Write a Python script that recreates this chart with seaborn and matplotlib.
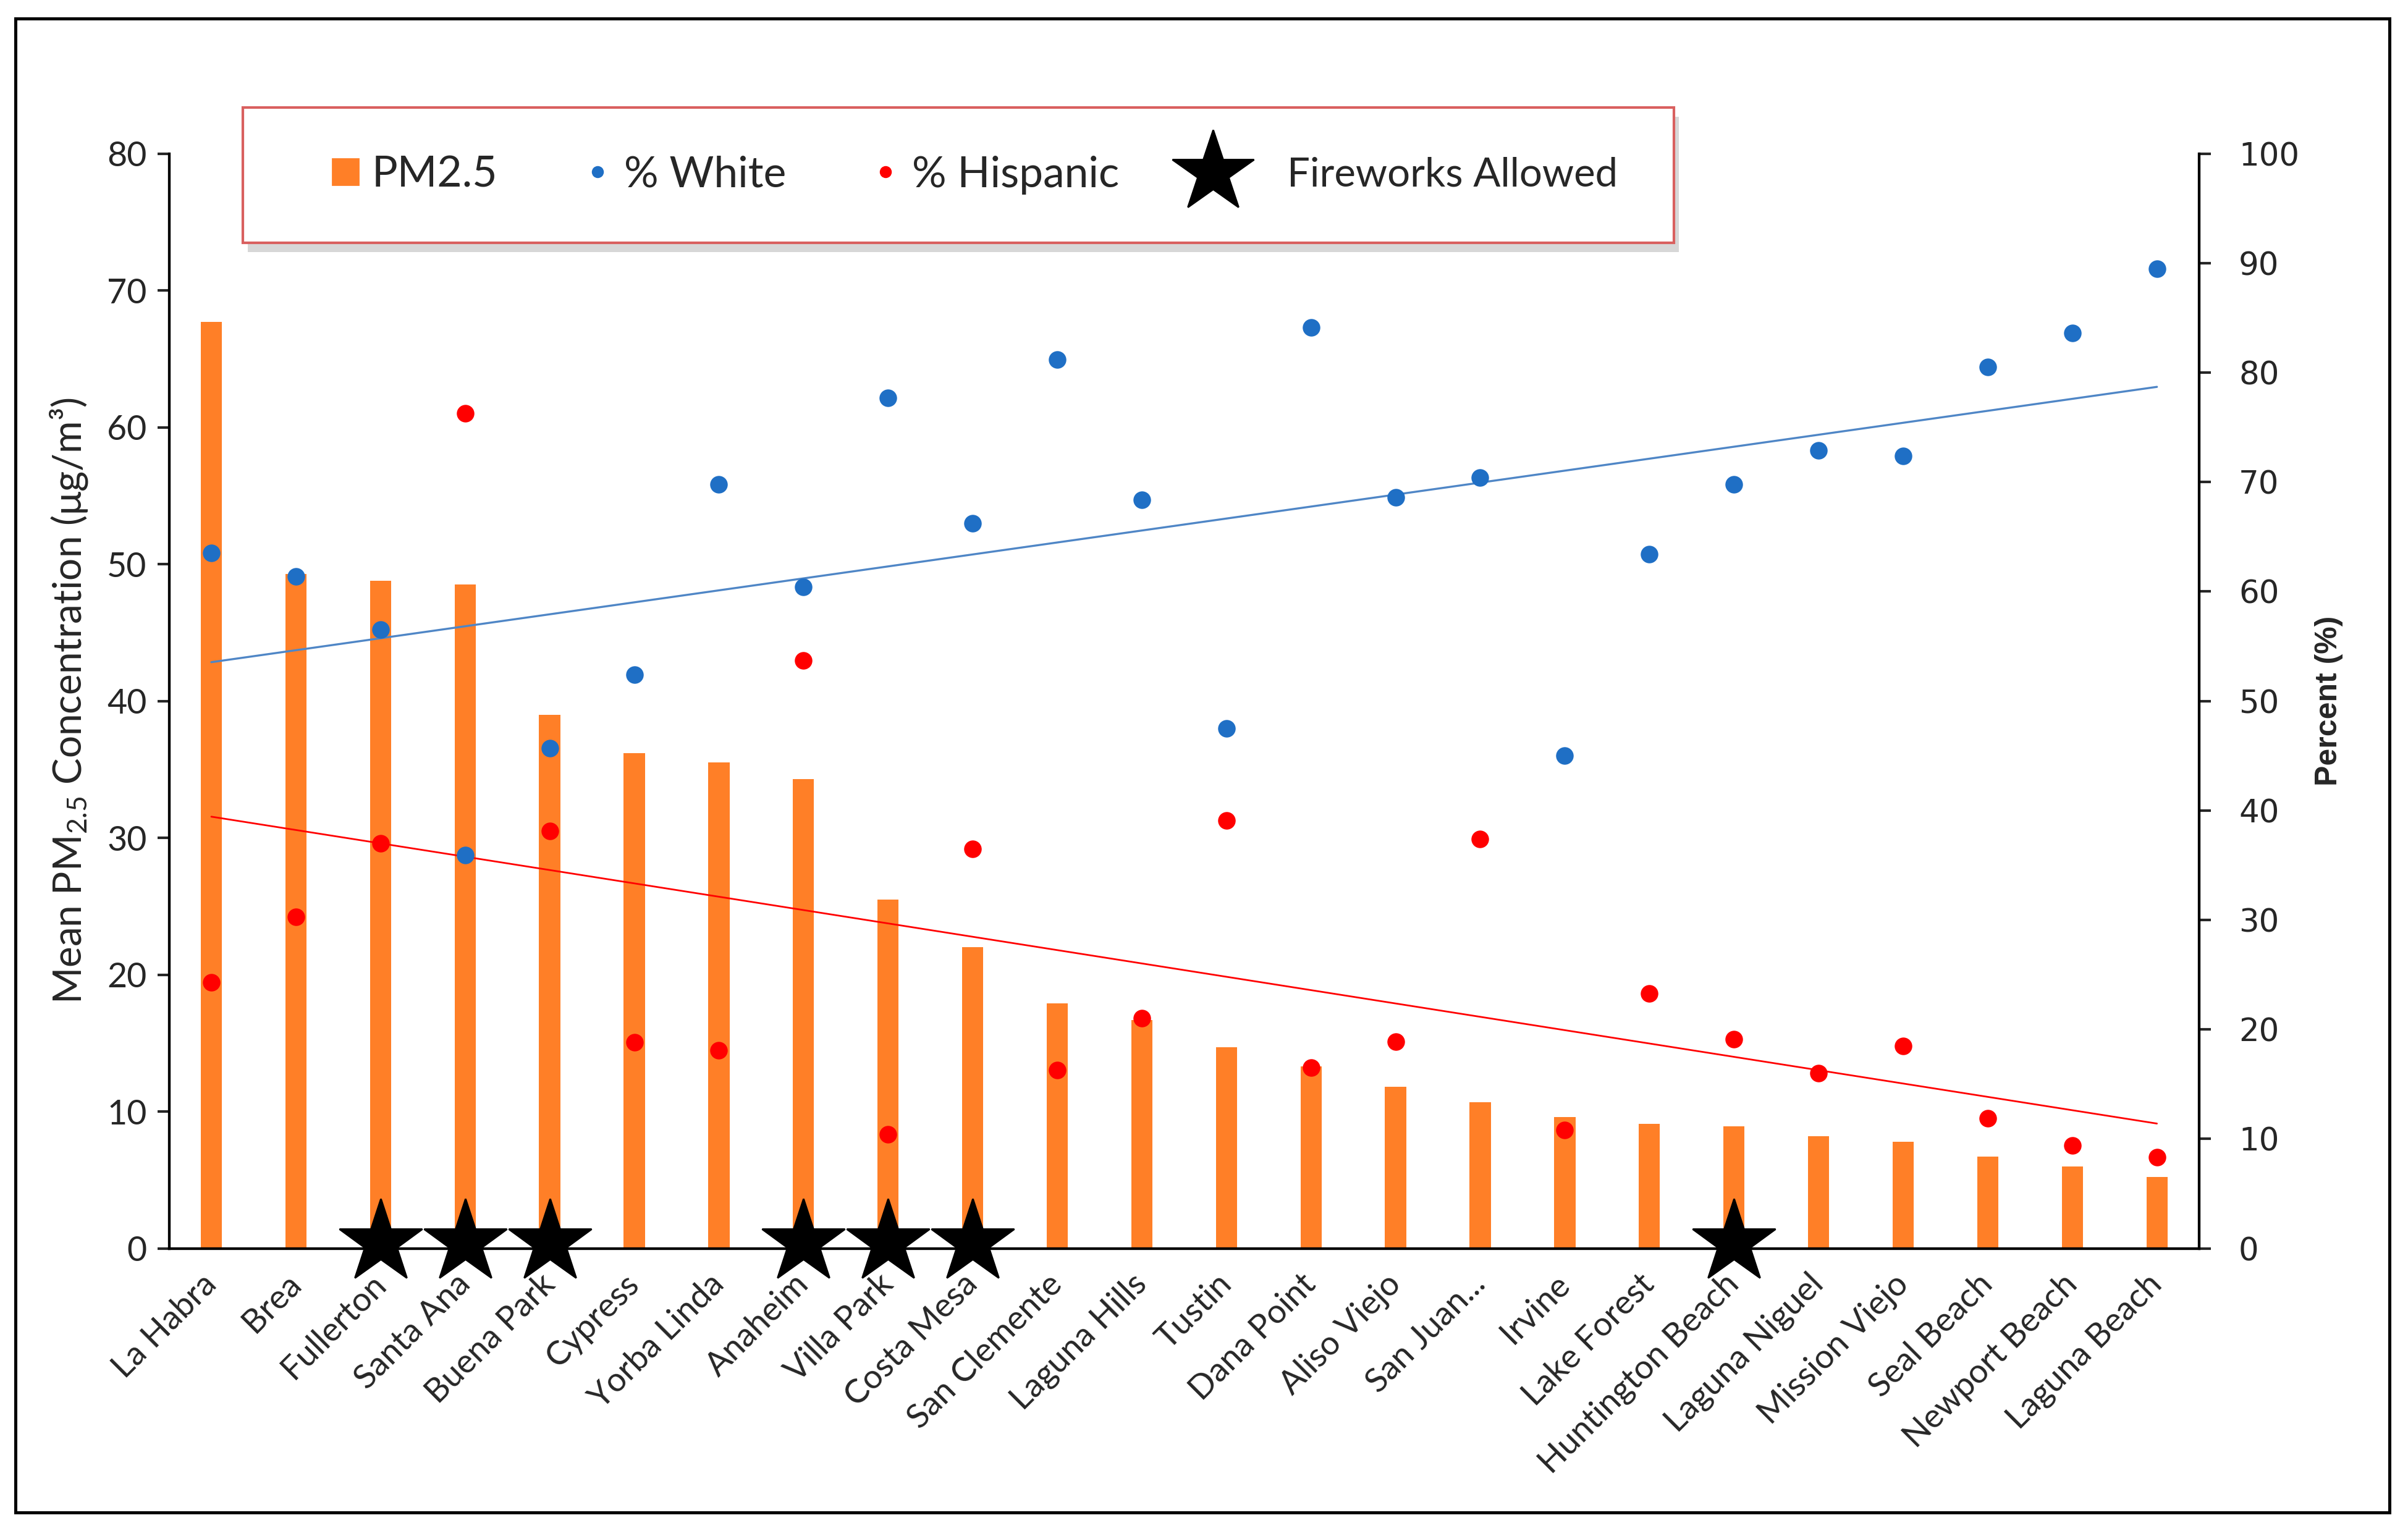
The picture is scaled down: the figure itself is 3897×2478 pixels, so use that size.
import numpy as np
import seaborn as sns
import matplotlib.pyplot as plt
from matplotlib.lines import Line2D
from matplotlib.patches import Rectangle
from matplotlib.legend_handler import HandlerLine2D
from matplotlib.transforms import offset_copy

# Cities, ordered by mean PM2.5
cities = ['La Habra', 'Brea', 'Fullerton', 'Santa Ana', 'Buena Park', 'Cypress',
          'Yorba Linda', 'Anaheim', 'Villa Park', 'Costa Mesa', 'San Clemente',
          'Laguna Hills', 'Tustin', 'Dana Point', 'Aliso Viejo', 'San Juan...',
          'Irvine', 'Lake Forest', 'Huntington Beach', 'Laguna Niguel',
          'Mission Viejo', 'Seal Beach', 'Newport Beach', 'Laguna Beach']
pm25 = [67.7, 49.3, 48.8, 48.5, 39.0, 36.2, 35.5, 34.3, 25.5, 22.0, 17.9, 16.7,
        14.7, 13.3, 11.8, 10.7, 9.6, 9.1, 8.9, 8.2, 7.8, 6.7, 6.0, 5.2]
pct_white = [63.5, 61.4, 56.5, 35.9, 45.7, 52.4, 69.8, 60.4, 77.7, 66.2, 81.2, 68.4,
             47.5, 84.1, 68.6, 70.4, 45.0, 63.4, 69.8, 72.9, 72.4, 80.5, 83.6, 89.5]
pct_hispanic = [24.3, 30.3, 37.0, 76.3, 38.1, 18.8, 18.1, 53.7, 10.4, 36.5, 16.3, 21.0,
                39.1, 16.5, 18.9, 37.4, 10.8, 23.3, 19.1, 16.0, 18.5, 11.9, 9.4, 8.3]
fireworks = ['Fullerton', 'Santa Ana', 'Buena Park', 'Anaheim', 'Villa Park',
             'Costa Mesa', 'Huntington Beach']

orange = '#ff7f27'
blue = '#1f6fc5'
red = '#ff0000'

sns.set_theme(style='ticks')
plt.rcParams['font.family'] = ['Lato', 'DejaVu Sans']
plt.rcParams['mathtext.fontset'] = 'custom'
plt.rcParams['mathtext.rm'] = 'Lato'
plt.rcParams['mathtext.it'] = 'Lato:italic'

fig = plt.figure(figsize=(19.485, 12.39), dpi=200)
ax = fig.add_axes([0.0702, 0.1846, 0.8431, 0.7151])

# PM2.5 bars (left axis)
sns.barplot(x=cities, y=pm25, color=orange, saturation=1, width=0.25,
            linewidth=0, ax=ax)
ax.set_ylim(0, 80)
ax.set_yticks(range(0, 81, 10))

# Percent points + linear trendlines (right axis)
ax2 = ax.twinx()
idx = np.arange(len(cities))
sns.regplot(x=idx, y=pct_white, ax=ax2, scatter=False, ci=None,
            line_kws=dict(color='#4f86c6', lw=1.2))
sns.regplot(x=idx, y=pct_hispanic, ax=ax2, scatter=False, ci=None,
            line_kws=dict(color=red, lw=1.0))
sns.scatterplot(x=idx, y=pct_white, ax=ax2, color=blue, s=105, linewidth=0,
                zorder=3, legend=False)
sns.scatterplot(x=idx, y=pct_hispanic, ax=ax2, color=red, s=105, linewidth=0,
                zorder=3, legend=False)

# Stars where fireworks are allowed, sitting on the baseline
star_idx = [cities.index(c) for c in fireworks]
star_tr = offset_copy(ax2.transData, fig=fig, y=3.5, units='points')
ax2.plot(star_idx, [0] * len(star_idx), ls='none', marker='*', ms=51,
         color='black', clip_on=False, zorder=6, transform=star_tr)

ax2.set_ylim(0, 100)
ax2.set_yticks(range(0, 101, 10))
ax.set_xlim(-0.5, len(cities) - 0.5)

# Axis styling
for a in (ax, ax2):
    a.spines['top'].set_visible(False)
    for s in ('left', 'right', 'bottom'):
        a.spines[s].set_linewidth(1.5)
        a.spines[s].set_color('black')

ax.tick_params(axis='y', direction='out', length=7, width=1.5, labelsize=20, pad=6)
ax.tick_params(axis='x', length=0, labelsize=19.5, pad=18)
ax2.tick_params(axis='y', direction='out', length=7, width=1.5, labelsize=18.5, pad=16,
                labelfontfamily='DejaVu Sans')
ax.set_xticks(idx)
ax.set_xticklabels(cities)
plt.setp(ax.get_xticklabels(), rotation=45, ha='right', va='center',
         rotation_mode='anchor')

ax.set_xlabel('')
ax2.set_xlabel('')
ax.set_ylabel('Mean PM$_{2.5}$ Concentration (μg/m³)', fontsize=23, labelpad=10)
ax2.set_ylabel('Percent (%)', fontsize=18, fontweight='bold',
               family=['Liberation Sans', 'DejaVu Sans'], labelpad=9)

# Legend box with soft shadow
box_x, box_y, box_w, box_h = 0.1008, 0.8415, 0.5944, 0.0883
fig.add_artist(Rectangle((box_x + 0.002, box_y - 0.006), box_w, box_h,
                         transform=fig.transFigure, fc='#bdbdbd', ec='none',
                         alpha=0.6, zorder=9))
fig.add_artist(Rectangle((box_x, box_y), box_w, box_h, transform=fig.transFigure,
                         fc='white', ec='#d9605f', lw=1.5, zorder=10))

handles_a = [
    Line2D([], [], ls='none', marker='s', ms=15, color=orange, label='PM2.5'),
    Line2D([], [], ls='none', marker='o', ms=6, color=blue, label='% White'),
    Line2D([], [], ls='none', marker='o', ms=6, color=red, label='% Hispanic'),
]
leg_a = fig.legend(handles=handles_a, loc='center left',
                   bbox_to_anchor=(0.1381, 0.8857), ncol=3, fontsize=25,
                   frameon=False, borderpad=0, borderaxespad=0,
                   handlelength=0.6, handletextpad=0.32, columnspacing=2.02)
leg_a.set_zorder(11)

handles_b = [Line2D([], [], ls='none', marker='*', ms=50, color='black',
                    label='Fireworks Allowed')]
leg_b = fig.legend(handles=handles_b, loc='center left',
                   bbox_to_anchor=(0.486, 0.8857), fontsize=23.5,
                   frameon=False, borderpad=0, borderaxespad=0,
                   handlelength=2.13, handletextpad=0.76,
                   handler_map={Line2D: HandlerLine2D()})
leg_b.set_zorder(11)

# Outer frame
fig.add_artist(Rectangle((0.0064, 0.012), 0.986, 0.976, transform=fig.transFigure,
                         fill=False, lw=1.8, ec='black'))

fig.savefig('out.png', dpi=200)
